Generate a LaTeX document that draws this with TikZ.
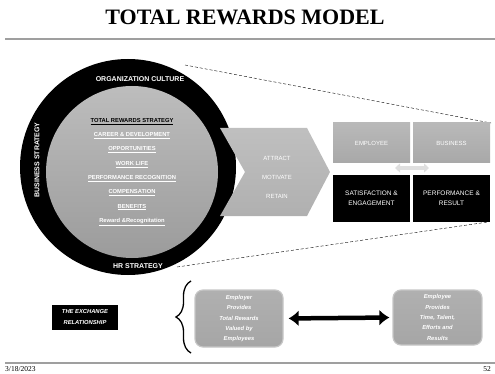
\documentclass[tikz,border=0pt]{standalone}
\usepackage{fontspec}
\setmainfont{Liberation Serif}
\setsansfont{Liberation Sans}
\usetikzlibrary{positioning,arrows.meta,decorations.pathreplacing}

\tikzset{
  ringtxt/.style={text=white, font=\sffamily\bfseries\fontsize{7}{8}\selectfont},
  listtxt/.style={text=white, align=center, font=\sffamily\bfseries\fontsize{5.8}{14.3}\selectfont},
  grayblock/.style={minimum width=77, minimum height=40, inner sep=0pt, top color=gray!55, bottom color=gray!68,
    text=white, font=\sffamily\fontsize{6}{7}\selectfont},
  blackblock/.style={fill=black, minimum width=77, minimum height=47, inner sep=0pt, align=center,
    text=white, font=\sffamily\fontsize{6.5}{10}\selectfont},
  roundblock/.style={rounded corners=8, draw=gray!45, line width=1.2, top color=gray!62, bottom color=gray!70,
    inner sep=0pt, align=center, text=white, font=\sffamily\bfseries\itshape\fontsize{5.8}{10.3}\selectfont},
  dashline/.style={dashed, thin, dash pattern=on 3pt off 2pt}
}

\begin{document}
\begin{tikzpicture}[x=1pt, y=-1pt]
    \useasboundingbox (0,0) rectangle (495,374);

    % --- 标题 ---
    \node[font=\bfseries\fontsize{22}{24}\selectfont] (title) at (245,17) {TOTAL REWARDS MODEL};
    \draw[gray!75, line width=2.5] (5,39) -- (495,39);

    % --- 虚线 (放大视图) ---
    \coordinate (dtop) at (185,65);
    \coordinate (dtopr) at (491,123);
    \coordinate (dbot) at (177,267);
    \coordinate (dbotr) at (488,222);
    \draw[dashline] (dtop) -- (dtopr);
    \draw[dashline] (dbot) -- (dbotr);

    % --- 外圈与内圈 ---
    \fill[black] (128,167) circle (108);
    \path[top color=gray!52, bottom color=gray!78] (132,172) circle (86);

    % 外圈文字
    \node[ringtxt] (culture) at (140,79) {ORGANIZATION CULTURE};
    \node[ringtxt] (hrstrat) at (138,266) {HR STRATEGY};
    \node[ringtxt, rotate=90] (busstrat) at (37,160) {BUSINESS STRATEGY};

    % 内圈列表
    \node[listtxt] (rewards) at (132,172) {%
      \textcolor{black}{\underline{TOTAL REWARDS STRATEGY}}\\
      \underline{CAREER \& DEVELOPMENT}\\
      \underline{OPPORTUNITIES}\\
      \underline{WORK LIFE}\\
      \underline{PERFORMANCE RECOGNITION}\\
      \underline{COMPENSATION}\\
      \underline{BENEFITS}\\
      \underline{Reward \&Recognitation}};

    % --- 箭头形状 (Chevron) ---
    \path[top color=gray!50, bottom color=gray!62]
      (220,128) -- (307,128) -- (330,172) -- (307,216) -- (220,216) -- (245,172) -- cycle;
    \node[align=center, text=white, font=\sffamily\fontsize{6}{19}\selectfont] (chev) at (277,177)
      {ATTRACT\\MOTIVATE\\RETAIN};

    % --- 右侧四个方块 ---
    \node[grayblock] (employee) at (371.5,143) {EMPLOYEE};
    \node[grayblock] (business) at (451.5,143) {BUSINESS};
    \node[blackblock] (satisf) at (371.5,198.5) {SATISFACTION \&\\ENGAGEMENT};
    \node[blackblock] (perform) at (451.5,198.5) {PERFORMANCE \&\\RESULT};
    \coordinate (xl) at (395,168);
    \coordinate (xr) at (429,168);
    \draw[gray!25, line width=3.5, {Triangle[length=5,width=9]}-{Triangle[length=5,width=9]}] (xl) -- (xr);

    % --- 底部: 交换关系 ---
    \node[fill=black, minimum width=66, minimum height=25, inner sep=0pt, align=center, text=white,
      font=\sffamily\bfseries\itshape\fontsize{5.8}{11}\selectfont] (exchange) at (85,317.5)
      {THE EXCHANGE\\RELATIONSHIP};
    \coordinate (brbot) at (191,353);
    \coordinate (brtop) at (191,281);
    \draw[decorate, decoration={brace, amplitude=15}, line width=1.3] (brbot) -- (brtop);

    \node[roundblock, minimum width=88, minimum height=57] (provider) at (239,318.5)
      {Employer\\Provides\\Total Rewards\\Valued by\\Employees};
    \node[roundblock, minimum width=89, minimum height=55] (giver) at (437.5,317.5)
      {Employee\\Provides\\Time, Talent,\\Efforts and\\Results};
    \draw[line width=4.5, {Latex[length=10,width=16]}-{Latex[length=10,width=16]},
      shorten <=5, shorten >=3] (provider.east) -- (giver.west);

    % --- 页脚 ---
    \draw[gray!75, line width=1.5] (5,363) -- (495,363);
    \node[anchor=west, font=\fontsize{7.5}{8}\selectfont, inner sep=0pt] (date) at (5,369.5) {3/18/2023};
    \node[anchor=east, font=\fontsize{7.5}{8}\selectfont, inner sep=0pt] (page) at (491,369.5) {52};

\end{tikzpicture}
\end{document}
